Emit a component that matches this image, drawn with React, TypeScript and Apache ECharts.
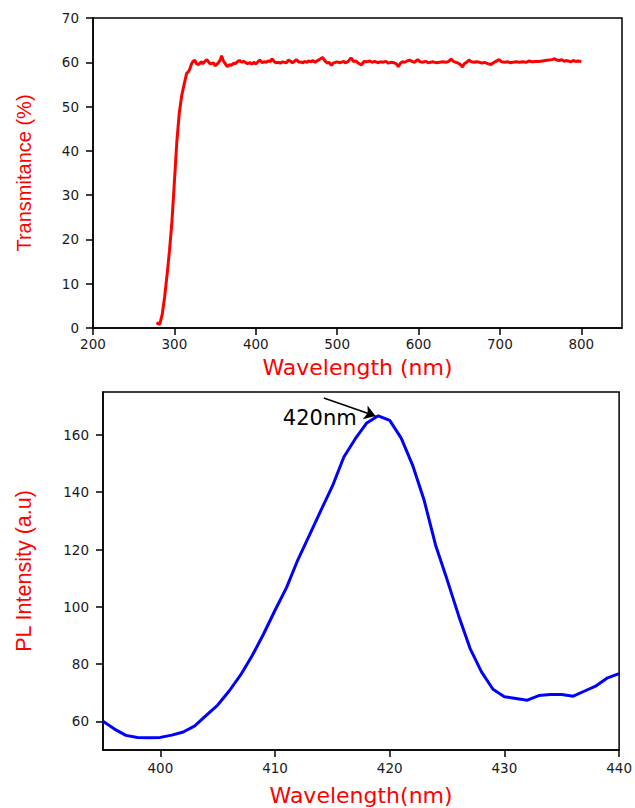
import React, { useEffect, useRef } from "react";
import * as echarts from "echarts";

// ---------- Top panel: transmittance ----------
const transWavelength = [
  278, 280, 282, 285, 288, 291, 294, 297, 300, 303, 306, 309, 312, 315, 317, 319, 321, 323, 325, 327,
  330, 333, 335, 338, 340, 343, 345, 348, 350, 353, 355, 357, 358, 360, 362, 365, 368, 370, 373, 375,
  378, 380, 383, 385, 388, 390, 393, 395, 398, 400, 403, 405, 408, 410, 413, 415, 418, 420, 423, 425,
  428, 430, 433, 435, 438, 440, 443, 445, 448, 450, 453, 455, 458, 460, 463, 465, 468, 470, 473, 475,
  478, 482, 485, 488, 490, 493, 495, 498, 500, 503, 505, 508, 510, 513, 517, 520, 523, 526, 530, 533,
  536, 540, 543, 546, 550, 553, 556, 560, 563, 566, 570, 573, 575, 578, 580, 583, 586, 589, 592, 595,
  599, 602, 605, 609, 612, 615, 618, 622, 626, 630, 634, 637, 640, 643, 646, 649, 652, 654, 656, 659,
  662, 665, 668, 671, 675, 678, 681, 685, 689, 692, 695, 699, 702, 706, 710, 713, 716, 720, 724, 728,
  732, 736, 740, 744, 748, 752, 756, 760, 764, 767, 770, 773, 776, 779, 781, 784, 787, 790, 793, 796, 800,
];
const transmittance = [
  1.2, 1.0, 0.8, 3, 7, 12, 17.5, 24, 33, 42, 48.5, 52.5, 55, 57.5, 57.8, 58.5, 59.6, 60.2, 60.5, 59.7,
  59.5, 60.1, 59.7, 60.3, 60.6, 59.8, 59.6, 59.9, 59.2, 59.7, 60.1, 60.8, 61.5, 60.4, 59.8, 59.0, 59.5, 59.3, 59.8, 59.7,
  60.2, 60.4, 60.0, 60.2, 59.9, 59.7, 59.9, 59.6, 60.0, 59.6, 60.2, 60.5, 59.9, 60.1, 60.0, 60.3, 60.2, 60.8, 60.1, 59.9,
  60.0, 59.8, 60.1, 60.0, 59.9, 60.5, 60.2, 59.9, 60.3, 60.6, 60.0, 60.1, 59.9, 60.2, 60.0, 60.3, 60.1, 60.4, 60.0, 60.3,
  60.6, 61.1, 60.3, 59.8, 60.0, 59.3, 59.8, 60.0, 60.1, 59.9, 60.0, 60.2, 59.9, 60.1, 61.0, 60.2, 60.3, 59.8, 59.4, 60.2,
  60.1, 60.3, 60.0, 60.2, 59.9, 60.1, 60.0, 60.2, 59.8, 60.0, 59.9, 59.6, 59.0, 59.8, 60.1, 60.0, 60.3, 60.5, 60.2, 60.0,
  60.6, 60.1, 60.0, 60.2, 59.9, 60.0, 60.1, 59.9, 60.0, 60.1, 60.0, 60.2, 60.7, 60.2, 60.0, 59.8, 59.4, 58.9, 59.6, 60.0,
  60.5, 60.1, 60.0, 60.1, 60.0, 59.8, 60.0, 59.7, 59.5, 59.9, 60.2, 60.6, 60.1, 60.0, 60.1, 59.9, 60.0, 60.1, 60.0, 60.1,
  60.0, 60.3, 60.1, 60.2, 60.2, 60.3, 60.4, 60.5, 60.6, 60.8, 60.5, 60.4, 60.6, 60.2, 60.4, 60.3, 60.1, 60.4, 60.2, 60.3, 60.2,
];
const topXTicks = [200, 300, 400, 500, 600, 700, 800];
const topYTicks = [0, 10, 20, 30, 40, 50, 60, 70];

// ---------- Bottom panel: PL ----------
const plWavelength = [
  395, 396, 397, 398, 399, 400, 401, 402, 403, 404, 405, 406, 407, 408, 409, 410, 411, 412, 413, 414,
  415, 416, 417, 418, 419, 420, 421, 422, 423, 424, 425, 426, 427, 428, 429, 430, 431, 432, 433, 434,
  435, 436, 437, 438, 439, 440,
];
const plIntensity = [
  60, 57.3, 55.1, 54.4, 54.3, 54.4, 55.2, 56.3, 58.4, 62.1, 65.7, 70.6, 76.2, 82.9, 90.5, 98.8, 106.7, 116.5, 125.0, 133.7,
  142.1, 152.3, 158.7, 164.2, 166.7, 165.1, 158.9, 149.4, 137.2, 121.5, 109.5, 97.0, 85.5, 77.3, 71.2, 68.6, 68.0, 67.4, 69.0, 69.4,
  69.4, 68.8, 70.6, 72.4, 75.2, 76.7,
];
const bottomXTicks = [400, 410, 420, 430, 440];
const bottomYTicks = [60, 80, 100, 120, 140, 160];

// annotation (data coordinates)
const peakLabel = "420nm";
const peakLabelAt = [413.9, 165.9];
const arrowFrom = [414.25, 172.9];
const arrowTo = [418.76, 166.6];

const TICK_FONT = "DejaVu Sans";

function axisCommon(ticks: number[], margin: number) {
  return {
    axisLine: { show: true, onZero: false, lineStyle: { color: "#000", width: 1.5 } },
    axisTick: { show: true, inside: false, length: 7, customValues: ticks, lineStyle: { color: "#000", width: 1.5 } },
    axisLabel: {
      customValues: ticks,
      color: "#1a1a1a",
      fontFamily: TICK_FONT,
      fontSize: 13.5,
      margin,
    },
    splitLine: { show: false },
  };
}

export default function App() {
  const ref = useRef<HTMLDivElement>(null);
  useEffect(() => {
    if (!ref.current) return;
    const chart = echarts.init(ref.current, undefined, { renderer: "svg" });
    const topData = transWavelength.map((x, i) => [x, transmittance[i]]);
    const plData = plWavelength.map((x, i) => [x, plIntensity[i]]);
    chart.setOption({
      animation: false,
      backgroundColor: "#fff",
      grid: [
        { left: 93, top: 18, right: 13, bottom: 480, show: true, borderColor: "#000", borderWidth: 1.5, containLabel: false },
        { left: 103, top: 392, right: 13, bottom: 58, show: true, borderColor: "#000", borderWidth: 1.5, containLabel: false },
      ],
      xAxis: [
        {
          gridIndex: 0,
          type: "value",
          min: 200,
          max: 850,
          interval: 50,
          ...axisCommon(topXTicks, 9),
          name: "Wavelength (nm)",
          nameLocation: "middle",
          nameGap: 28,
          nameTextStyle: { color: "#ff0000", fontFamily: "DejaVu Sans", fontSize: 22 },
        },
        {
          gridIndex: 1,
          type: "value",
          min: 395,
          max: 440,
          interval: 5,
          ...axisCommon(bottomXTicks, 11),
          name: "Wavelength(nm)",
          nameLocation: "middle",
          nameGap: 34,
          nameTextStyle: { color: "#ff0000", fontFamily: "DejaVu Sans", fontSize: 22 },
        },
      ],
      yAxis: [
        {
          gridIndex: 0,
          type: "value",
          min: 0,
          max: 70,
          interval: 10,
          ...axisCommon(topYTicks, 14),
          name: "Transmitance (%)",
          nameLocation: "middle",
          nameGap: 59,
          nameTextStyle: { color: "#ff0000", fontFamily: "Liberation Sans", fontSize: 20 },
        },
        {
          gridIndex: 1,
          type: "value",
          min: 50,
          max: 175,
          interval: 5,
          ...axisCommon(bottomYTicks, 14),
          name: "PL Intensity (a.u)",
          nameLocation: "middle",
          nameGap: 68,
          nameTextStyle: { color: "#ff0000", fontFamily: "Liberation Sans", fontSize: 21.5 },
        },
      ],
      series: [
        {
          type: "line",
          xAxisIndex: 0,
          yAxisIndex: 0,
          data: topData,
          showSymbol: false,
          lineStyle: { color: "#ff0000", width: 3 },
          z: 3,
        },
        {
          type: "line",
          xAxisIndex: 1,
          yAxisIndex: 1,
          data: plData,
          showSymbol: false,
          lineStyle: { color: "#0000ff", width: 3 },
          z: 3,
          markLine: {
            silent: true,
            symbol: ["none", "arrow"],
            symbolSize: 11,
            lineStyle: { color: "#000", width: 1.5, type: "solid" },
            itemStyle: { color: "#000" },
            label: { show: false },
            data: [[{ coord: arrowFrom }, { coord: arrowTo }]],
          },
          markPoint: {
            silent: true,
            symbol: "circle",
            symbolSize: 0,
            itemStyle: { color: "transparent" },
            label: {
              show: true,
              position: "inside",
              formatter: peakLabel,
              color: "#000",
              fontFamily: "DejaVu Sans",
              fontSize: 21,
            },
            data: [{ coord: peakLabelAt }],
          },
        },
      ],
    });
    return () => chart.dispose();
  }, []);
  return (
    <div
      ref={ref}
      style={{ position: "absolute", left: 0, top: 0, width: 635, height: 808, background: "#fff" }}
    />
  );
}
